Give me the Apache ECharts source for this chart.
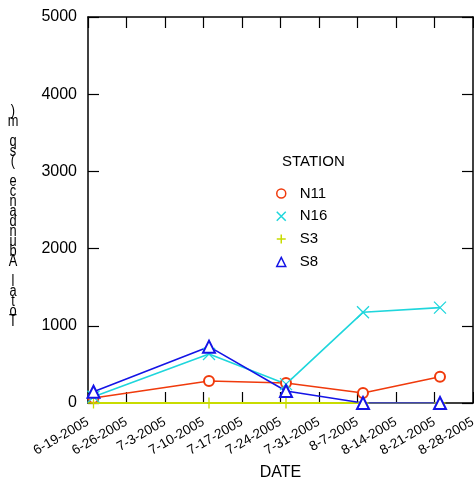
<!DOCTYPE html>
<html>
<head>
<meta charset="utf-8">
<script src="https://cdn.jsdelivr.net/npm/echarts@6/dist/echarts.min.js"></script>
<style>
html,body{margin:0;padding:0;background:#fff;}
#chart{width:474px;height:477px;}
</style>
</head>
<body>
<div id="chart"></div>
<script>
// ---- data ----
const startDate = '2005-06-19';
const tickLabels = ['6-19-2005','6-26-2005','7-3-2005','7-10-2005','7-17-2005','7-24-2005','7-31-2005','8-7-2005','8-14-2005','8-21-2005','8-28-2005'];
const sampleDates = ['2005-06-20','2005-07-11','2005-07-25','2005-08-08','2005-08-22'];
const stations = ['N11','N16','S3','S8'];
const valuesN11 = [65, 285, 260, 130, 340];
const valuesN16 = [80, 635, 245, 1175, 1235];
const valuesS3 = [0, 0, 0, 0, 0];
const valuesS8 = [146, 730, 155, 0, 0];
const yLabels = ['0','1000','2000','3000','4000','5000'];
const yTitle = 'Total Abundance (sq m)';

const colors = {N11:'#f03a0c', N16:'#1fd6dc', S3:'#c8dc00', S8:'#1414e6'};
const symbols = {
  N11:'emptyCircle',
  N16:'path://M0,0L10,10M10,0L0,10',
  S3:'path://M5,0L5,10M0,5L10,5',
  S8:'emptyTriangle'
};
const legendIcons = {
  N11:'circle',
  N16:'path://M0,0L10,10M10,0L0,10',
  S3:'path://M5,0L5,10M0,5L10,5',
  S8:'triangle'
};
const symbolSizes = {N11:10, N16:12, S3:11, S8:12};
const seriesValues = {N11:valuesN11, N16:valuesN16, S3:valuesS3, S8:valuesS8};

const DAY = 86400000;
const t0 = Date.parse(startDate);
const dayOffsets = sampleDates.map(d => (Date.parse(d) - t0) / DAY);

const chart = echarts.init(document.getElementById('chart'), null, {renderer:'canvas'});
const FONT = '"Liberation Sans", Arial, sans-serif';

const series = stations.map(s => ({
  name: s,
  type: 'line',
  data: dayOffsets.map((x, i) => [x, seriesValues[s][i]]),
  symbol: symbols[s],
  symbolSize: symbolSizes[s],
  showAllSymbol: true,
  lineStyle: {color: colors[s], width: s === 'S3' ? 2 : 1.6},
  itemStyle: {color: colors[s], borderColor: colors[s], borderWidth: 1.3},
  emphasis: {disabled: true},
  animation: false
}));

const xAxisBase = {
  type: 'value', min: 0, max: 70, interval: 7,
  axisLine: {show: true, onZero: false, lineStyle: {color: '#000', width: 1.5}},
  axisTick: {show: true, inside: true, length: 11, lineStyle: {color: '#000', width: 1.2}},
  splitLine: {show: false}
};
const yAxisBase = {
  type: 'value', min: 0, max: 5000, interval: 1000,
  axisLine: {show: true, onZero: false, lineStyle: {color: '#000', width: 1.5}},
  axisTick: {show: true, inside: true, length: 11, lineStyle: {color: '#000', width: 1.2}},
  splitLine: {show: false}
};

chart.setOption({
  backgroundColor: '#fff',
  animation: false,
  grid: {left: 88, right: 1, top: 17, bottom: 74, containLabel: false, outerBoundsMode: 'none'},
  xAxis: [
    Object.assign({}, xAxisBase, {
      position: 'bottom',
      name: 'DATE', nameLocation: 'middle', nameGap: 60,
      nameTextStyle: {fontFamily: FONT, fontSize: 16, color: '#000'},
      axisLabel: {
        show: true, rotate: 30, margin: 18, fontFamily: FONT, fontSize: 13.5, color: '#000',
        showMinLabel: true, showMaxLabel: true, hideOverlap: false,
        formatter: v => tickLabels[Math.round(v / 7)] || ''
      }
    }),
    Object.assign({}, xAxisBase, {position: 'top', axisLabel: {show: false}})
  ],
  yAxis: [
    Object.assign({}, yAxisBase, {
      position: 'left',
      axisLabel: {show: true, margin: 11, fontFamily: FONT, fontSize: 16, color: '#000',
        formatter: v => yLabels[Math.round(v / 1000)]}
    }),
    Object.assign({}, yAxisBase, {position: 'right', axisLabel: {show: false}})
  ],
  legend: {
    orient: 'vertical', left: 271, top: 181, itemGap: 7.8, itemWidth: 9, itemHeight: 9,
    textStyle: {fontFamily: FONT, fontSize: 15, color: '#000', padding: [0, 0, 0, 9]},
    selectedMode: false,
    data: stations.map(s => ({
      name: s, icon: legendIcons[s],
      itemStyle: {color: (s === 'N11' || s === 'S8') ? 'rgba(255,255,255,0)' : colors[s], borderColor: colors[s], borderWidth: 1.5}
    }))
  },
  title: {
    text: 'STATION', left: 277, top: 149,
    textStyle: {fontFamily: FONT, fontSize: 15, fontWeight: 'normal', color: '#000'}
  },
  graphic: [{
    type: 'text', x: 13, y: 107, scaleX: 0.8,
    style: {
      text: yTitle.split('').reverse().join('\n'),
      fontFamily: FONT, fontSize: 16, lineHeight: 10, fill: '#000', align: 'center', verticalAlign: 'top'
    }
  }],
  series: series
});
</script>
</body>
</html>
